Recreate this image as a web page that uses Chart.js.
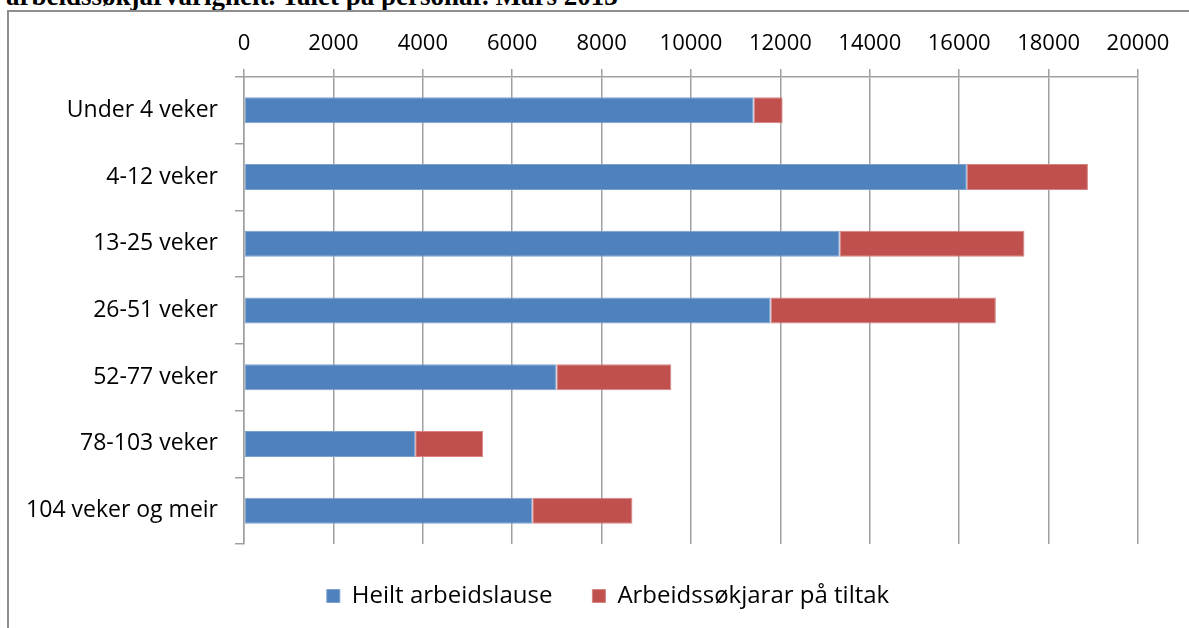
<!DOCTYPE html>
<html>
<head>
<meta charset="utf-8">
<script src="https://cdn.jsdelivr.net/npm/chart.js@4"></script>
<style>
  html, body { margin: 0; padding: 0; background: #fff; overflow: hidden; }
  #wrap { position: relative; width: 1189px; height: 628px; }
  #title { position: absolute; left: 6px; top: -17px; font-family: "Liberation Serif", "Times New Roman", serif; font-weight: bold; font-size: 27px; line-height: 27px; white-space: nowrap; color: #000; }
  #frame { position: absolute; left: 7px; top: 10px; width: 1200px; height: 640px; border-left: 2px solid #8e8e8e; border-top: 2px solid #8e8e8e; }
  canvas { position: absolute; left: 0; top: 0; }
</style>
</head>
<body>
<div id="wrap">
  <div id="title">arbeidssøkjarvarigheit. Talet på personar. Mars 2013</div>
  <div id="frame"></div>
  <canvas id="c" width="1189" height="628"></canvas>
</div>
<script>
const categories = ['Under 4 veker', '4-12 veker', '13-25 veker', '26-51 veker', '52-77 veker', '78-103 veker', '104 veker og meir'];
const heiltArbeidslause = [11400, 16170, 13325, 11780, 6990, 3830, 6450];
const paaTiltak = [650, 2710, 4135, 5040, 2570, 1520, 2240];
const seriesNames = ['Heilt arbeidslause', 'Arbeidssøkjarar på tiltak'];
const axisMin = 0, axisMax = 20000, axisStep = 2000;

Chart.defaults.font.family = '"Open Sans", sans-serif';
Chart.defaults.font.size = 22;
Chart.defaults.color = '#000';

const shiftLegend = {
  id: 'shiftLegend',
  afterLayout(chart) {
    const lg = chart.legend;
    if (lg) { lg.left += 39; lg.right += 39; }
  }
};

new Chart(document.getElementById('c'), {
  type: 'bar',
  data: {
    labels: categories,
    datasets: [
      { label: seriesNames[0], data: heiltArbeidslause, backgroundColor: '#4F81BD', borderColor: '#7b9fcf', borderWidth: 1, borderSkipped: false },
      { label: seriesNames[1], data: paaTiltak, backgroundColor: '#C0504D', borderColor: '#d68381', borderWidth: 1, borderSkipped: false }
    ]
  },
  plugins: [shiftLegend],
  options: {
    indexAxis: 'y',
    responsive: false,
    animation: false,
    layout: { padding: { left: 0, right: 51, top: 0, bottom: 10 } },
    datasets: { bar: { categoryPercentage: 1, barPercentage: 0.39 } },
    scales: {
      x: {
        position: 'top',
        stacked: true,
        min: axisMin, max: axisMax,
        ticks: { stepSize: axisStep, padding: 12, font: { size: 22 }, color: '#000', callback: (v) => String(v) },
        grid: { color: '#a0a0a0', lineWidth: 1.5, tickLength: 8, drawOnChartArea: true },
        border: { display: true, color: '#a0a0a0', width: 1.5 },
        afterFit: (s) => { s.height = 77; }
      },
      y: {
        stacked: true,
        ticks: { padding: 17, font: { size: 23 }, color: '#000' },
        grid: { offset: true, drawOnChartArea: false, drawTicks: true, tickLength: 9, color: '#a0a0a0', lineWidth: 1.5 },
        border: { display: true, color: '#a0a0a0', width: 1.5 },
        afterFit: (s) => { s.width = 244; }
      }
    },
    plugins: {
      legend: {
        position: 'bottom',
        labels: { boxWidth: 13, boxHeight: 13, padding: 40, font: { size: 24 }, color: '#000' }
      },
      tooltip: { enabled: false },
      title: { display: false }
    }
  }
});
</script>
</body>
</html>
